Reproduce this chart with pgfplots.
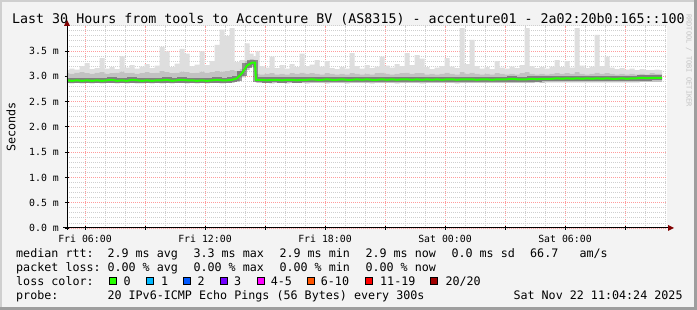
\documentclass[border=0pt]{standalone}
\usepackage{pgfplots}
\pgfplotsset{compat=1.18}
\usepackage{pgfplotstable}
\usepackage{fontspec}
\setmainfont{DejaVu Sans Mono}
\definecolor{bgc}{HTML}{F3F3F3}
\definecolor{shadea}{HTML}{CFCFCF}
\definecolor{shadeb}{HTML}{9E9E9E}
\definecolor{mgrid}{HTML}{FF9C9C}
\definecolor{mingrid}{HTML}{CFCFCF}
\definecolor{arrowred}{HTML}{800000}
\definecolor{smokelight}{HTML}{DEDEDE}
\definecolor{smokemid}{HTML}{C2C2C2}
\definecolor{lossA}{HTML}{26FF00}
\definecolor{lossB}{HTML}{00B8FF}
\definecolor{lossC}{HTML}{0059FF}
\definecolor{lossD}{HTML}{7300FF}
\definecolor{lossE}{HTML}{FF00FF}
\definecolor{lossF}{HTML}{FF5500}
\definecolor{lossG}{HTML}{FF0000}
\definecolor{lossH}{HTML}{A00000}
\definecolor{wmark}{HTML}{C4C4C4}

\pgfplotstableread{
h lo mid hi med
0.00 2.87 3.06 3.12 2.92
0.25 2.86 3.05 3.15 2.91
0.50 2.87 3.07 3.13 2.92
0.75 2.86 3.08 3.20 2.91
1.00 2.87 3.06 3.26 2.92
1.25 2.86 3.05 3.14 2.91
1.50 2.87 3.07 3.16 2.92
1.75 2.86 3.08 3.36 2.91
2.00 2.87 3.05 3.15 2.92
2.25 2.87 3.06 3.18 2.93
2.50 2.86 3.07 3.14 2.91
2.75 2.87 3.09 3.40 2.92
3.00 2.86 3.06 3.17 2.91
3.25 2.87 3.07 3.22 2.93
3.50 2.86 3.05 3.15 2.92
3.75 2.86 3.06 3.19 2.91
4.00 2.87 3.08 3.24 2.92
4.25 2.86 3.06 3.16 2.91
4.50 2.87 3.07 3.21 2.92
4.75 2.86 3.10 3.58 2.92
5.00 2.87 3.08 3.49 2.93
5.25 2.86 3.06 3.18 2.91
5.50 2.87 3.07 3.25 2.92
5.75 2.87 3.09 3.54 2.93
6.00 2.86 3.08 3.45 2.92
6.25 2.87 3.06 3.20 2.92
6.50 2.86 3.07 3.23 2.91
6.75 2.87 3.09 3.49 2.92
7.00 2.86 3.07 3.22 2.91
7.25 2.87 3.08 3.30 2.92
7.50 2.87 3.10 3.62 2.93
7.75 2.86 3.09 3.92 2.92
8.00 2.87 3.10 3.80 2.92
8.25 2.87 3.12 3.95 2.93
8.50 2.89 3.10 3.28 2.96
8.75 2.98 3.15 3.32 3.06
9.00 3.12 3.30 3.65 3.21
9.25 3.18 3.34 3.45 3.27
9.40 3.17 3.33 3.40 3.27
9.45 2.88 3.06 3.49 2.93
9.50 2.87 3.05 3.49 2.93
9.75 2.87 3.04 3.20 2.93
10.00 2.87 3.05 3.17 2.92
10.25 2.86 3.06 3.39 2.93
10.50 2.87 3.04 3.16 2.93
10.75 2.87 3.05 3.22 2.92
11.00 2.86 3.04 3.15 2.93
11.25 2.87 3.06 3.24 2.93
11.50 2.87 3.05 3.18 2.92
11.75 2.87 3.07 3.45 2.93
12.00 2.86 3.05 3.20 2.93
12.25 2.87 3.06 3.23 2.94
12.50 2.87 3.05 3.32 2.93
12.75 2.87 3.04 3.19 2.93
13.00 2.86 3.06 3.30 2.94
13.25 2.87 3.05 3.16 2.93
13.50 2.87 3.04 3.14 2.93
13.75 2.87 3.05 3.18 2.94
14.00 2.86 3.04 3.15 2.93
14.25 2.87 3.06 3.46 2.93
14.50 2.87 3.05 3.20 2.94
14.75 2.87 3.04 3.15 2.93
15.00 2.87 3.05 3.22 2.94
15.25 2.86 3.04 3.16 2.93
15.50 2.87 3.06 3.19 2.93
15.75 2.87 3.07 3.39 2.94
16.00 2.87 3.05 3.21 2.93
16.25 2.87 3.04 3.17 2.94
16.50 2.86 3.05 3.24 2.93
16.75 2.87 3.06 3.20 2.94
17.00 2.87 3.07 3.46 2.94
17.25 2.87 3.05 3.22 2.93
17.50 2.87 3.06 3.42 2.94
17.75 2.86 3.06 3.35 2.93
18.00 2.87 3.04 3.18 2.94
18.25 2.87 3.05 3.14 2.93
18.50 2.87 3.04 3.17 2.94
18.75 2.87 3.05 3.20 2.93
19.00 2.87 3.07 3.36 2.94
19.25 2.87 3.05 3.19 2.94
19.50 2.86 3.04 3.16 2.93
19.75 2.87 3.08 3.95 2.94
20.00 2.87 3.05 3.24 2.94
20.25 2.87 3.07 3.72 2.94
20.50 2.87 3.05 3.20 2.93
20.75 2.87 3.04 3.15 2.94
21.00 2.87 3.05 3.18 2.94
21.25 2.87 3.04 3.14 2.93
21.50 2.87 3.06 3.30 2.94
21.75 2.87 3.05 3.17 2.94
22.00 2.87 3.04 3.15 2.94
22.25 2.87 3.05 3.19 2.95
22.50 2.87 3.04 3.16 2.94
22.75 2.87 3.06 3.22 2.94
23.00 2.87 3.08 3.95 2.94
23.25 2.87 3.05 3.20 2.95
23.50 2.88 3.04 3.16 2.94
23.75 2.87 3.05 3.18 2.95
24.00 2.88 3.04 3.15 2.95
24.25 2.88 3.05 3.19 2.95
24.50 2.88 3.06 3.32 2.96
24.75 2.88 3.05 3.18 2.95
25.00 2.88 3.06 3.30 2.96
25.25 2.88 3.05 3.17 2.95
25.50 2.88 3.08 3.95 2.96
25.75 2.88 3.05 3.21 2.95
26.00 2.88 3.04 3.16 2.96
26.25 2.88 3.05 3.19 2.95
26.50 2.88 3.07 3.82 2.96
26.75 2.88 3.05 3.20 2.95
27.00 2.88 3.06 3.39 2.96
27.25 2.88 3.05 3.17 2.95
27.50 2.88 3.04 3.14 2.95
27.75 2.88 3.05 3.16 2.96
28.00 2.88 3.04 3.13 2.95
28.25 2.88 3.05 3.15 2.96
28.50 2.88 3.04 3.12 2.96
28.75 2.89 3.05 3.14 2.97
29.00 2.89 3.04 3.12 2.96
29.25 2.89 3.06 3.12 2.97
29.50 2.89 3.05 3.13 2.97
29.75 2.89 3.05 3.12 2.97
}\smoke

\newcommand{\lgfont}{\fontsize{11.7pt}{14pt}\selectfont}
\newcommand{\tkfont}{\fontsize{9.85pt}{11pt}\selectfont}

\pgfplotsset{
  rrdaxis/.style={
    at={(67pt,82pt)}, anchor=south west,
    scale only axis, width=600pt, height=202.3pt,
    xmin=0, xmax=30, ymin=0, ymax=4,
  }
}

\begin{document}
\begin{tikzpicture}
\fill[bgc] (0,0) rectangle (697pt,310pt);
\fill[shadea] (0,0) rectangle (2pt,310pt);
\fill[shadea] (0,308pt) rectangle (697pt,310pt);
\fill[shadeb] (694pt,0) rectangle (697pt,310pt);
\fill[shadeb] (0,0) rectangle (697pt,3pt);
\begin{axis}[
  rrdaxis,
  stack plots=y,
  axis background/.style={fill=white},
  axis line style={draw=none},
  tick pos=left,
  xtick={0.9,3.9,6.9,9.9,12.9,15.9,18.9,21.9,24.9,27.9},
  xticklabels={Fri 06:00,,Fri 12:00,,Fri 18:00,,Sat 00:00,,Sat 06:00,},
  minor xtick={1.9,2.9,4.9,5.9,7.9,8.9,10.9,11.9,13.9,14.9,16.9,17.9,19.9,20.9,22.9,23.9,25.9,26.9,28.9,29.9},
  ytick={0,0.5,1,1.5,2,2.5,3,3.5},
  yticklabels={0.0 m,0.5 m,1.0 m,1.5 m,2.0 m,2.5 m,3.0 m,3.5 m},
  minor ytick={0.1,0.2,0.3,0.4,0.6,0.7,0.8,0.9,1.1,1.2,1.3,1.4,1.6,1.7,1.8,1.9,2.1,2.2,2.3,2.4,2.6,2.7,2.8,2.9,3.1,3.2,3.3,3.4,3.6,3.7,3.8,3.9,4.0},
  grid=both,
  major grid style={mgrid, line width=0.8pt, dash pattern=on 1pt off 1pt},
  minor grid style={mingrid, line width=0.8pt, dash pattern=on 1pt off 1pt},
  major tick length=4pt, minor tick length=0pt, tick align=center,
  tick style={black, line width=0.8pt},
  tick label style={font=\tkfont, inner sep=0pt, text=black},
  xticklabel style={anchor=north, yshift=-5pt},
  yticklabel style={anchor=east, xshift=-6pt},
]
\addplot[draw=none, const plot mark mid] table[x=h,y=lo]{\smoke};
\addplot[draw=none, fill=smokemid, const plot mark mid] table[x=h,y expr=\thisrow{mid}-\thisrow{lo}]{\smoke} \closedcycle;
\addplot[draw=none, fill=smokelight, const plot mark mid] table[x=h,y expr=\thisrow{hi}-\thisrow{mid}]{\smoke} \closedcycle;
\end{axis}
\begin{axis}[rrdaxis, hide axis]
\addplot[black!75, opacity=0.5, line width=5pt, const plot mark mid] table[x=h,y=med]{\smoke};
\addplot[lossA, line width=2pt] table[x=h,y=med]{\smoke};
\end{axis}
% axis lines with arrows
\draw[black, line width=1pt] (63pt,82pt) -- (669pt,82pt);
\fill[arrowred] (668pt,79pt) -- (674pt,82pt) -- (668pt,85pt) -- cycle;
\draw[black, line width=1pt] (67pt,80pt) -- (67pt,285pt);
\fill[arrowred] (64pt,284pt) -- (67pt,290pt) -- (70pt,284pt) -- cycle;
% title
\node[anchor=base west, inner sep=0pt, font=\fontsize{13.3pt}{15pt}\selectfont] at (12pt,286pt)
  {Last 30 Hours from tools to Accenture BV (AS8315) - accenture01 - 2a02:20b0:165::100};
% y label
\node[rotate=90, inner sep=0pt, font=\lgfont] at (11pt,183pt) {Seconds};
% watermark
\node[rotate=-90, anchor=base west, inner sep=0pt, text=wmark, font=\fontsize{7pt}{8pt}\selectfont] at (686.5pt,296pt) {RRDTOOL / TOBI OETIKER};
% legend
\begin{scope}[every node/.style={anchor=base west, inner sep=0pt, font=\lgfont}]
\node at (16pt,52.7pt) {median rtt:};
\node at (107.3pt,52.7pt) {2.9 ms avg};
\node at (193.3pt,52.7pt) {3.3 ms max};
\node at (279.3pt,52.7pt) {2.9 ms min};
\node at (365.3pt,52.7pt) {2.9 ms now};
\node at (451.3pt,52.7pt) {0.0 ms sd};
\node at (530pt,52.7pt) {66.7};
\node at (579.3pt,52.7pt) {am/s};
\node at (16pt,38.5pt) {packet loss:};
\node at (107.3pt,38.5pt) {0.00 \% avg};
\node at (193.3pt,38.5pt) {0.00 \% max};
\node at (279.3pt,38.5pt) {0.00 \% min};
\node at (365.3pt,38.5pt) {0.00 \% now};
\node at (16pt,24.5pt) {loss color:};
\node at (123.3pt,24.5pt) {0};
\node at (161pt,24.5pt) {1};
\node at (197.3pt,24.5pt) {2};
\node at (234pt,24.5pt) {3};
\node at (270.7pt,24.5pt) {4-5};
\node at (320.7pt,24.5pt) {6-10};
\node at (380pt,24.5pt) {11-19};
\node at (445.3pt,24.5pt) {20/20};
\node at (16pt,10.5pt) {probe:};
\node at (107.3pt,10.5pt) {20 IPv6-ICMP Echo Pings (56 Bytes) every 300s};
\node at (513.3pt,10.5pt) {Sat Nov 22 11:04:24 2025};
\end{scope}
\begin{scope}[draw=black, line width=0.8pt]
\filldraw[fill=lossA] (109pt,25.5pt) rectangle ++(7pt,7.5pt);
\filldraw[fill=lossB] (146pt,25.5pt) rectangle ++(7pt,7.5pt);
\filldraw[fill=lossC] (183.3pt,25.5pt) rectangle ++(7pt,7.5pt);
\filldraw[fill=lossD] (220pt,25.5pt) rectangle ++(7pt,7.5pt);
\filldraw[fill=lossE] (257.3pt,25.5pt) rectangle ++(7pt,7.5pt);
\filldraw[fill=lossF] (307.3pt,25.5pt) rectangle ++(7pt,7.5pt);
\filldraw[fill=lossG] (365pt,25.5pt) rectangle ++(7pt,7.5pt);
\filldraw[fill=lossH] (430pt,25.5pt) rectangle ++(7pt,7.5pt);
\end{scope}
\end{tikzpicture}
\end{document}
